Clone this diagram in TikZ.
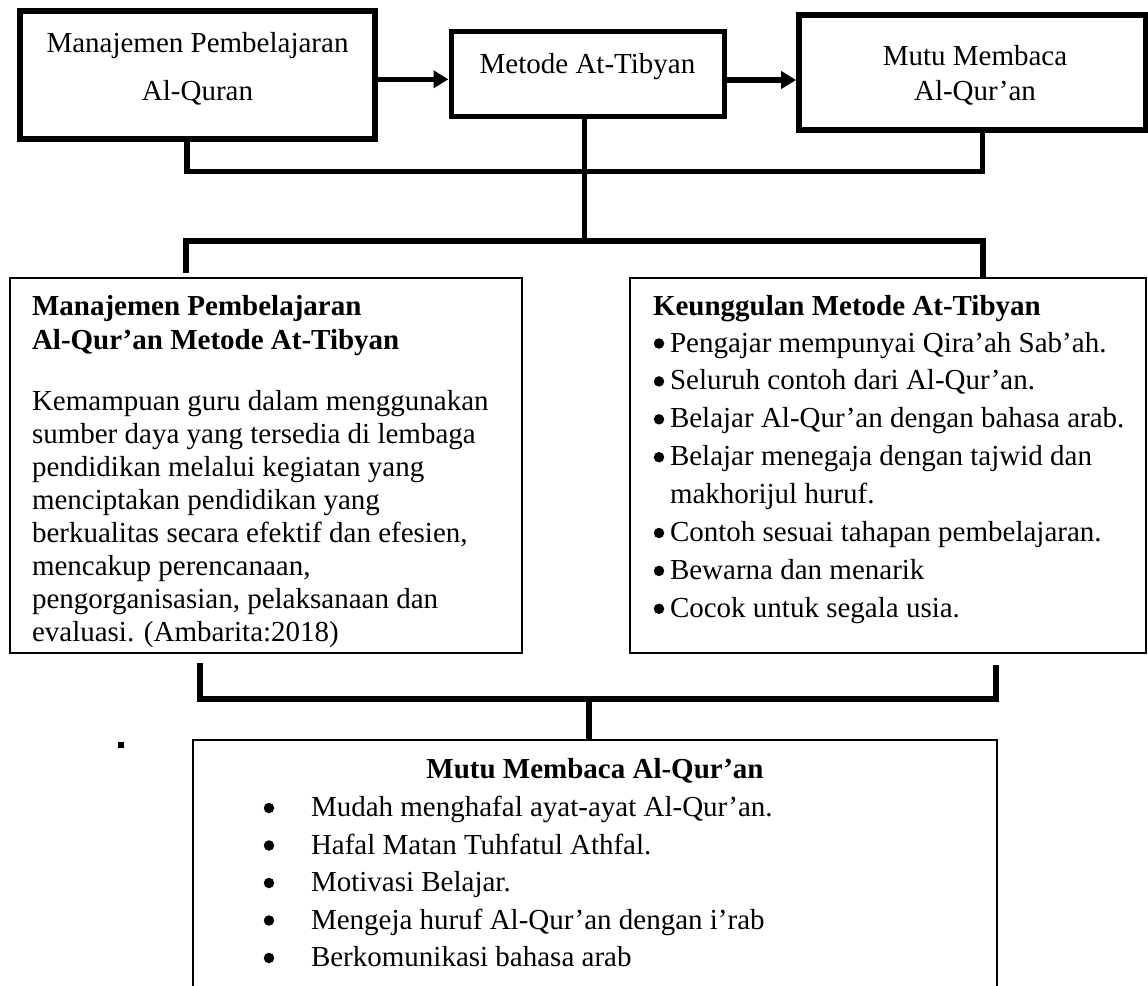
\documentclass[tikz,border=0pt]{standalone}
\usepackage{fontspec}
\setmainfont{Liberation Serif}
\usetikzlibrary{arrows.meta}
\begin{document}
\begin{tikzpicture}[x=1pt,y=-1pt,
  every node/.style={inner sep=0pt, outer sep=0pt},
  txt/.style={font=\fontsize{29}{33}\selectfont},
  btxt/.style={font=\fontsize{29}{33}\selectfont\bfseries},
  thickbox/.style={draw, line width=6pt},
  thinbox/.style={draw, line width=2.6pt},
  conn/.style={line width=5.5pt},
  arr/.style={line width=5.5pt, -{Triangle[length=15pt,width=17pt]}, shorten >=2.5pt},
  dot/.style={circle, fill, minimum size=10.5pt},
  sq/.style={rectangle, fill, minimum size=6.5pt}
]
\useasboundingbox (0,0) rectangle (1148,985);
\fill[white] (0,0) rectangle (1148,985);
\clip (0,0) rectangle (1148,985);

% top boxes
\node[thickbox, minimum width=354.7pt, minimum height=127.4pt] (b1) at (197.6,75) {};
\node[thickbox, line width=5pt, minimum width=273pt, minimum height=85pt] (b2) at (587.5,73.5) {};
\node[thickbox, minimum width=347.3pt, minimum height=115.6pt] (b3) at (972.3,72.5) {};

\node[txt, anchor=base] (t1a) at (197.5,52) {Manajemen Pembelajaran};
\node[txt, anchor=base] (t1b) at (197.5,100) {Al-Quran};
\node[txt, anchor=base] (t2) at (587.5,73) {Metode At-Tibyan};
\node[txt, anchor=base] (t3a) at (975,65) {Mutu Membaca};
\node[txt, anchor=base] (t3b) at (975,100) {Al-Qur’an};

% arrows
\coordinate (ay1) at (0,79.3);
\coordinate (ay2) at (0,80);
\draw[arr] (b1.east |- ay1) -- (b2.west |- ay1);
\draw[arr] (b2.east |- ay2) -- (b3.west |- ay2);

% top bracket
\coordinate (c1) at (187,171.5);
\coordinate (c2) at (982.5,171.5);
\draw[conn] (b1.south -| c1) -- (c1) -- (c2) -- (b3.south -| c2);

% middle boxes
\node[thinbox, minimum width=512pt, minimum height=375pt] (b4) at (266,465.5) {};
\node[thinbox, minimum width=516pt, minimum height=375pt] (b5) at (888,465.5) {};

% main vertical and second bracket
\coordinate (m1) at (584.5,241);
\draw[conn] (b2.south -| m1) -- (m1);
\coordinate (d1) at (186,241);
\coordinate (d2) at (983,241);
\draw[conn, shorten <=5pt] (b4.north -| d1) -- (d1) -- (d2) -- (b5.north -| d2);

% left box text
\node[btxt, anchor=base west] (l0a) at (32,315) {Manajemen Pembelajaran};
\node[btxt, anchor=base west] (l0b) at (32,349) {Al-Qur’an Metode At-Tibyan};
\foreach \t [count=\i from 0] in {
  {Kemampuan guru dalam menggunakan},
  {sumber daya yang tersedia di lembaga},
  {pendidikan melalui kegiatan yang},
  {menciptakan pendidikan yang},
  {berkualitas secara efektif dan efesien,},
  {mencakup perencanaan,},
  {pengorganisasian, pelaksanaan dan},
  {evaluasi. (Ambarita:2018)}}
  \node[txt, anchor=base west] (l\i) at (32,410+33*\i) {\t};

% right box text
\node[btxt, anchor=base west] (r0) at (653,315) {Keunggulan Metode At-Tibyan};
\node[txt, anchor=base west] (r1) at (670,352) {Pengajar mempunyai Qira’ah Sab’ah.};
\node[txt, anchor=base west] (r2) at (670,389.9) {Seluruh contoh dari Al-Qur’an.};
\node[txt, anchor=base west] (r3) at (670,427.8) {Belajar Al-Qur’an dengan bahasa arab.};
\node[txt, anchor=base west] (r4) at (670,465.7) {Belajar menegaja dengan tajwid dan};
\node[txt, anchor=base west] (r5) at (670,503.6) {makhorijul huruf.};
\node[txt, anchor=base west] (r6) at (670,541.5) {Contoh sesuai tahapan pembelajaran.};
\node[txt, anchor=base west] (r7) at (670,579.4) {Bewarna dan menarik};
\node[txt, anchor=base west] (r8) at (670,617.3) {Cocok untuk segala usia.};
\foreach \y [count=\i] in {352,389.9,427.8,465.7,541.5,579.4,617.3}
  \node[dot] (rb\i) at (659,\y-8.5) {};

% bottom bracket
\coordinate (e1) at (200,699);
\coordinate (e2) at (996,699);
\draw[conn, shorten <=10pt, shorten >=12pt] (b4.south -| e1) -- (e1) -- (e2) -- (b5.south -| e2);

% bottom box (open at the bottom edge)
\node[thinbox, minimum width=804pt, minimum height=300pt] (b6) at (595,890) {};
\coordinate (e3) at (589,699);
\draw[conn] (e3) -- (b6.north -| e3);

\node[sq] (pt) at (121,745) {};

\node[btxt, anchor=base] (u0) at (595,778) {Mutu Membaca Al-Qur’an};
\foreach \t [count=\i from 0] in {
  {Mudah menghafal ayat-ayat Al-Qur’an.},
  {Hafal Matan Tuhfatul Athfal.},
  {Motivasi Belajar.},
  {Mengeja huruf Al-Qur’an dengan i’rab},
  {Berkomunikasi bahasa arab}}
{
  \node[txt, anchor=base west] (u\i x) at (311,816.5+37.5*\i) {\t};
  \node[dot] (ub\i) at (269,808+37.5*\i) {};
}
\end{tikzpicture}
\end{document}
